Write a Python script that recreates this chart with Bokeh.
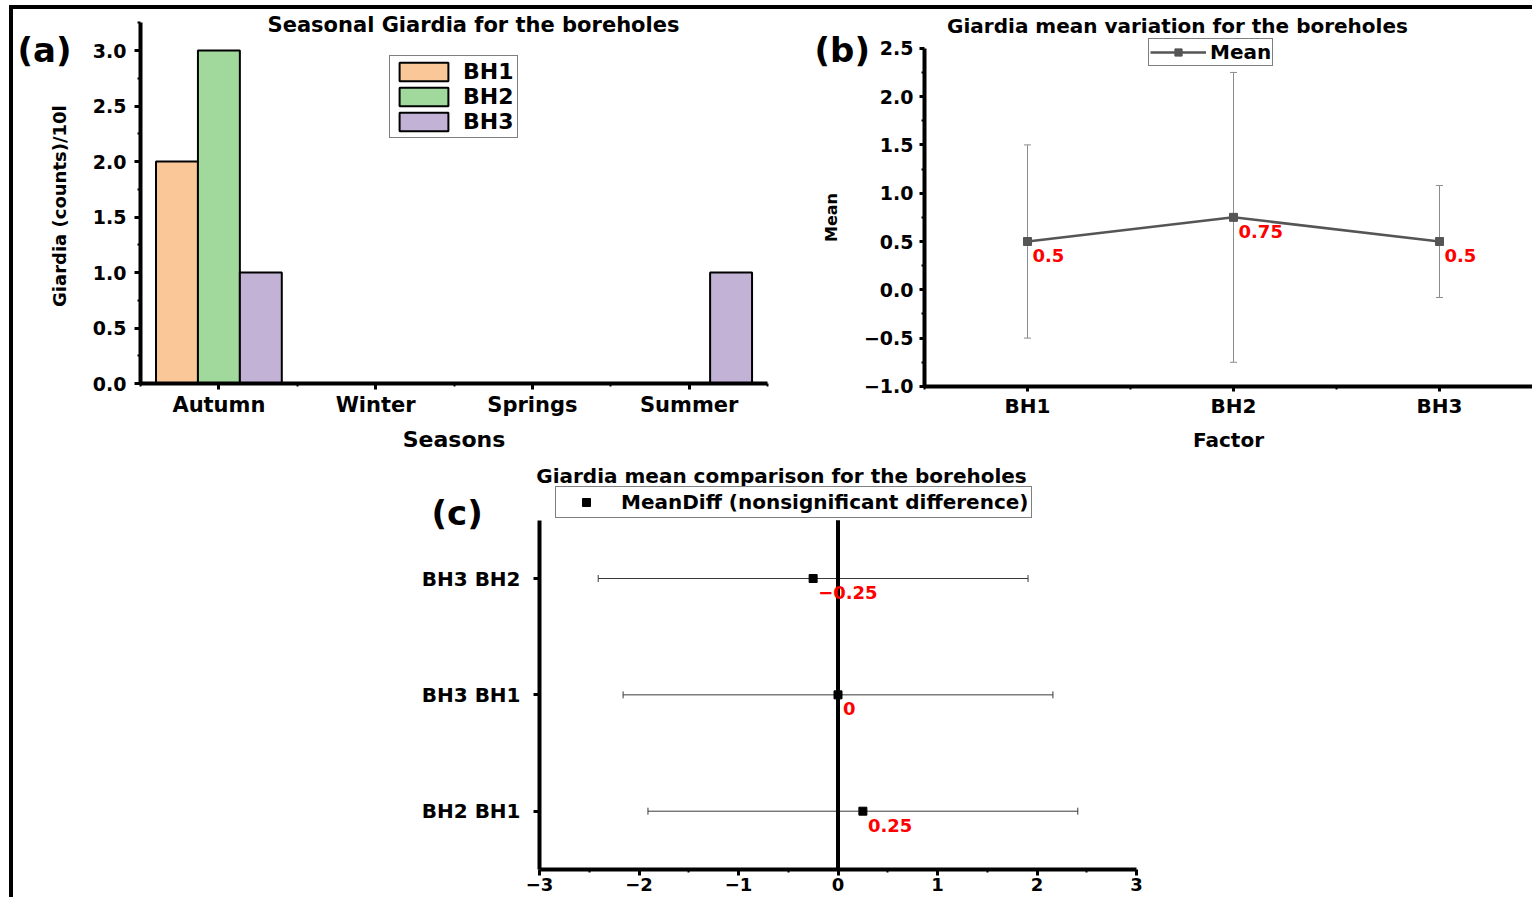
from bokeh.plotting import figure
from bokeh.models import (ColumnDataSource, Range1d, FixedTicker, Label, LabelSet, Whisker,
                          TeeHead, Spacer)
from bokeh.layouts import row, column
from bokeh.transform import dodge
from bokeh.core.properties import value
from bokeh.embed import file_html
from bokeh.resources import INLINE

FONT = "DejaVu Sans"

# ---- (a) seasonal Giardia counts per borehole ----
seasons = ["Autumn", "Winter", "Springs", "Summer"]
bh1_counts = [2, 0, 0, 0]
bh2_counts = [3, 0, 0, 0]
bh3_counts = [1, 0, 0, 1]
count_ticks = [0.0, 0.5, 1.0, 1.5, 2.0, 2.5, 3.0]

# ---- (b) mean and spread per borehole ----
factors = ["BH1", "BH2", "BH3"]
means = [0.5, 0.75, 0.5]
mean_lower = [-0.5, -0.75, -0.08]
mean_upper = [1.5, 2.25, 1.08]
mean_ticks = [-1.0, -0.5, 0.0, 0.5, 1.0, 1.5, 2.0, 2.5]

# ---- (c) pairwise mean differences with confidence intervals ----
pairs = ["BH2  BH1", "BH3  BH1", "BH3  BH2"]
mean_diffs = [0.25, 0.0, -0.25]
diff_lower = [-1.91, -2.16, -2.41]
diff_upper = [2.41, 2.16, 1.91]
diff_ticks = [-3, -2, -1, 0, 1, 2, 3]


def minus(s):
    return s.replace("-", "\u2212")


def fmt_value(v):
    return minus(f"{v:g}")


def x_range_for(v0, px0, ppu, canvas_left, canvas_w):
    """Range whose frame fills the whole canvas, with value v0 at page pixel px0."""
    start = v0 - (px0 - canvas_left) / ppu
    return Range1d(start, start + canvas_w / ppu)


def y_range_for(v0, px0, ppu, canvas_top, canvas_h):
    top = v0 + (px0 - canvas_top) / ppu
    return Range1d(top - canvas_h / ppu, top)


def make_fig(xr, yr, w, h):
    p = figure(x_range=xr, y_range=yr, width=w, height=h, min_border=0,
               toolbar_location=None, output_backend="svg")
    if p.title is not None:
        p.title.visible = False
    p.xgrid.visible = False
    p.ygrid.visible = False
    p.outline_line_color = None
    p.background_fill_color = "white"
    p.border_fill_color = "white"
    return p


def style_axis(ax, tick_size, label_size="18px", line_w=4, tick_out=6, label_standoff=5,
               axis_standoff=10):
    ax.axis_line_width = line_w
    ax.axis_line_color = "black"
    ax.major_tick_line_width = 3
    ax.major_tick_line_color = "black"
    ax.minor_tick_line_width = 2
    ax.minor_tick_line_color = "black"
    ax.major_tick_in = 0
    ax.minor_tick_in = 0
    ax.major_tick_out = tick_out
    ax.minor_tick_out = 3
    ax.major_label_standoff = label_standoff
    ax.axis_label_standoff = axis_standoff
    ax.major_label_text_font = FONT
    ax.major_label_text_font_style = "bold"
    ax.major_label_text_font_size = tick_size
    ax.major_label_text_color = "black"
    ax.axis_label_text_font = FONT
    ax.axis_label_text_font_style = "bold"
    ax.axis_label_text_font_size = label_size
    ax.axis_label_text_color = "black"


def add_text(p, text, x, y, size, align="center", color="black"):
    p.add_layout(Label(x=x, y=y, x_units="canvas", y_units="canvas", text=text,
                       text_font=FONT, text_font_style="bold", text_font_size=size,
                       text_align=align, text_baseline="middle", text_color=color))


def style_legend(lg, x, y, font_size, glyph_w, glyph_h, standoff, padding, spacing=0):
    lg.location = (x, y)
    lg.margin = 0
    lg.padding = padding
    lg.spacing = spacing
    lg.glyph_width = glyph_w
    lg.glyph_height = glyph_h
    lg.label_height = glyph_h
    lg.label_standoff = standoff
    lg.label_text_font = FONT
    lg.label_text_font_style = "bold"
    lg.label_text_font_size = font_size
    lg.label_text_color = "black"
    lg.border_line_color = "black"
    lg.border_line_width = 1
    lg.background_fill_color = "white"
    lg.background_fill_alpha = 1


# ================= panel (a) =================
season_pos = list(range(1, len(seasons) + 1))
pa = make_fig(x_range_for(1, 218.4, 156.75, 13, 787), y_range_for(0, 383, 111, 9, 451), 787, 451)

src_a = ColumnDataSource(dict(x=season_pos, BH1=bh1_counts, BH2=bh2_counts, BH3=bh3_counts))
bw = 0.2675
for name, off, color in [("BH1", -bw, "#FAC898"), ("BH2", 0.0, "#A1D99D"), ("BH3", bw, "#C2B2D6")]:
    pa.vbar(x=dodge("x", off), top=name, width=bw, source=src_a,
            fill_color=color, line_color="black", line_width=2, legend_label=name)

ya = pa.yaxis[0]
ya.fixed_location = season_pos[0] - 0.5
ya.bounds = (0, 3.25)
ya.ticker = FixedTicker(ticks=count_ticks, minor_ticks=[t + 0.25 for t in count_ticks])
ya.major_label_overrides = {t: minus(f"{t:.1f}") for t in count_ticks}
style_axis(ya, "19px", "18px", tick_out=6, label_standoff=8, axis_standoff=20)
ya.axis_label = "Giardia  (counts)/10l"

xa = pa.xaxis[0]
xa.fixed_location = 0
xa.bounds = (season_pos[0] - 0.5, season_pos[-1] + 0.5)
xa.ticker = FixedTicker(ticks=season_pos,
                        minor_ticks=[p - 0.5 for p in season_pos] + [season_pos[-1] + 0.5])
xa.major_label_overrides = {p: s for p, s in zip(season_pos, seasons)}
style_axis(xa, "21px", "22px", tick_out=6, label_standoff=3, axis_standoff=7)
xa.axis_label = "Seasons"

style_legend(pa.legend[0], 376, 322, "22px", 61, 23, 9, 3)

add_text(pa, "Seasonal Giardia for the boreholes", 460, 15, "21px")
add_text(pa, "(a)", 4, 40, "34px", align="left")

# ================= panel (b) =================
positions = list(range(1, len(factors) + 1))
pb = make_fig(x_range_for(1, 1027, 206, 800, 732), y_range_for(0, 289.3, 96.6, 9, 451), 732, 451)

src_b = ColumnDataSource(dict(x=positions, mean=means, lower=mean_lower, upper=mean_upper,
                              label=[fmt_value(m) for m in means]))
err_color = "#8c8c8c"
pb.add_layout(Whisker(base="x", lower="lower", upper="upper", source=src_b,
                      line_color=err_color, line_width=1,
                      upper_head=TeeHead(size=7, line_color=err_color, line_width=1),
                      lower_head=TeeHead(size=7, line_color=err_color, line_width=1)))
pb.line("x", "mean", source=src_b, line_color="#555555", line_width=2.5, legend_label="Mean")
pb.scatter("x", "mean", source=src_b, marker="square", size=8, fill_color="#555555",
           line_color="#555555", legend_label="Mean")
pb.add_layout(LabelSet(x="x", y="mean", text="label", source=src_b, x_offset=5, y_offset=-14,
                       text_color="#FF0000", text_font=value(FONT), text_font_style="bold",
                       text_font_size="18px", text_baseline="middle", text_align="left"))

xb = pb.xaxis[0]
xb.fixed_location = mean_ticks[0]
xb.bounds = (positions[0] - 0.5, positions[-1] + 0.5)
xb.ticker = FixedTicker(ticks=positions,
                        minor_ticks=[p - 0.5 for p in positions] + [positions[-1] + 0.5])
xb.major_label_overrides = {p: f for p, f in zip(positions, factors)}
style_axis(xb, "20px", "20px", tick_out=5, label_standoff=3, axis_standoff=6)
xb.axis_label = "Factor"

yb = pb.yaxis[0]
yb.fixed_location = positions[0] - 0.5
yb.bounds = (mean_ticks[0], mean_ticks[-1])
yb.ticker = FixedTicker(ticks=mean_ticks, minor_ticks=[t + 0.25 for t in mean_ticks[:-1]])
yb.major_label_overrides = {t: minus(f"{t:.1f}") for t in mean_ticks}
style_axis(yb, "19px", "16px", tick_out=5, label_standoff=6, axis_standoff=20)
yb.axis_label = "Mean"

style_legend(pb.legend[0], 348, 394, "20px", 56, 18, 4, 1)

add_text(pb, "Giardia mean variation for the boreholes", 377, 16, "20px")
add_text(pb, "(b)", 14, 40, "34px", align="left")

# ================= panel (c) =================
pair_pos = list(range(1, len(pairs) + 1))
pc = make_fig(x_range_for(0, 837.5, 99.5, 400, 800), y_range_for(1, 810.7, 116.35, 460, 437), 800, 437)

src_c = ColumnDataSource(dict(y=pair_pos, diff=mean_diffs, lower=diff_lower, upper=diff_upper,
                              label=[fmt_value(d) for d in mean_diffs]))
ci_color = "#3a3a3a"
pc.add_layout(Whisker(base="y", lower="lower", upper="upper", dimension="width",
                      source=src_c, line_color=ci_color, line_width=1,
                      upper_head=TeeHead(size=7, line_color=ci_color, line_width=1),
                      lower_head=TeeHead(size=7, line_color=ci_color, line_width=1)))
# zero-difference reference line across the category band
pc.segment(x0=[0], y0=[pair_pos[0] - 0.5], x1=[0], y1=[pair_pos[-1] + 0.5],
           line_color="black", line_width=4)
pc.scatter("diff", "y", source=src_c, marker="square", size=8, fill_color="black",
           line_color="black", legend_label="MeanDiff (nonsignificant difference)")
pc.add_layout(LabelSet(x="diff", y="y", text="label", source=src_c, x_offset=5, y_offset=-14,
                       text_color="#FF0000", text_font=value(FONT), text_font_style="bold",
                       text_font_size="18px", text_baseline="middle", text_align="left"))

xc = pc.xaxis[0]
xc.fixed_location = pair_pos[0] - 0.5
xc.bounds = (diff_ticks[0], diff_ticks[-1])
xc.ticker = FixedTicker(ticks=diff_ticks, minor_ticks=[t + 0.5 for t in diff_ticks[:-1]])
xc.major_label_overrides = {t: minus(str(t)) for t in diff_ticks}
style_axis(xc, "18px", tick_out=6, label_standoff=3)

yc = pc.yaxis[0]
yc.fixed_location = diff_ticks[0]
yc.bounds = (pair_pos[0] - 0.5, pair_pos[-1] + 0.5)
yc.ticker = FixedTicker(ticks=pair_pos, minor_ticks=[])
yc.major_label_overrides = {p: s for p, s in zip(pair_pos, pairs)}
style_axis(yc, "20px", tick_out=6, label_standoff=6)

style_legend(pc.legend[0], 155, 379, "20px", 54, 20, 8, 3)

add_text(pc, "Giardia mean comparison for the boreholes", 381, 15, "20px")
add_text(pc, "(c)", 31, 52, "34px", align="left")

# ================= page with frame lines =================
black = {"background-color": "black"}
page = column(
    Spacer(width=1532, height=5),
    row(Spacer(width=9, height=892),
        Spacer(width=4, height=892, styles=black),
        column(Spacer(width=1519, height=4, styles=black),
               row(pa, pb),
               row(Spacer(width=387, height=437), pc))),
)

open("out.html", "w").write(file_html(page, INLINE))
